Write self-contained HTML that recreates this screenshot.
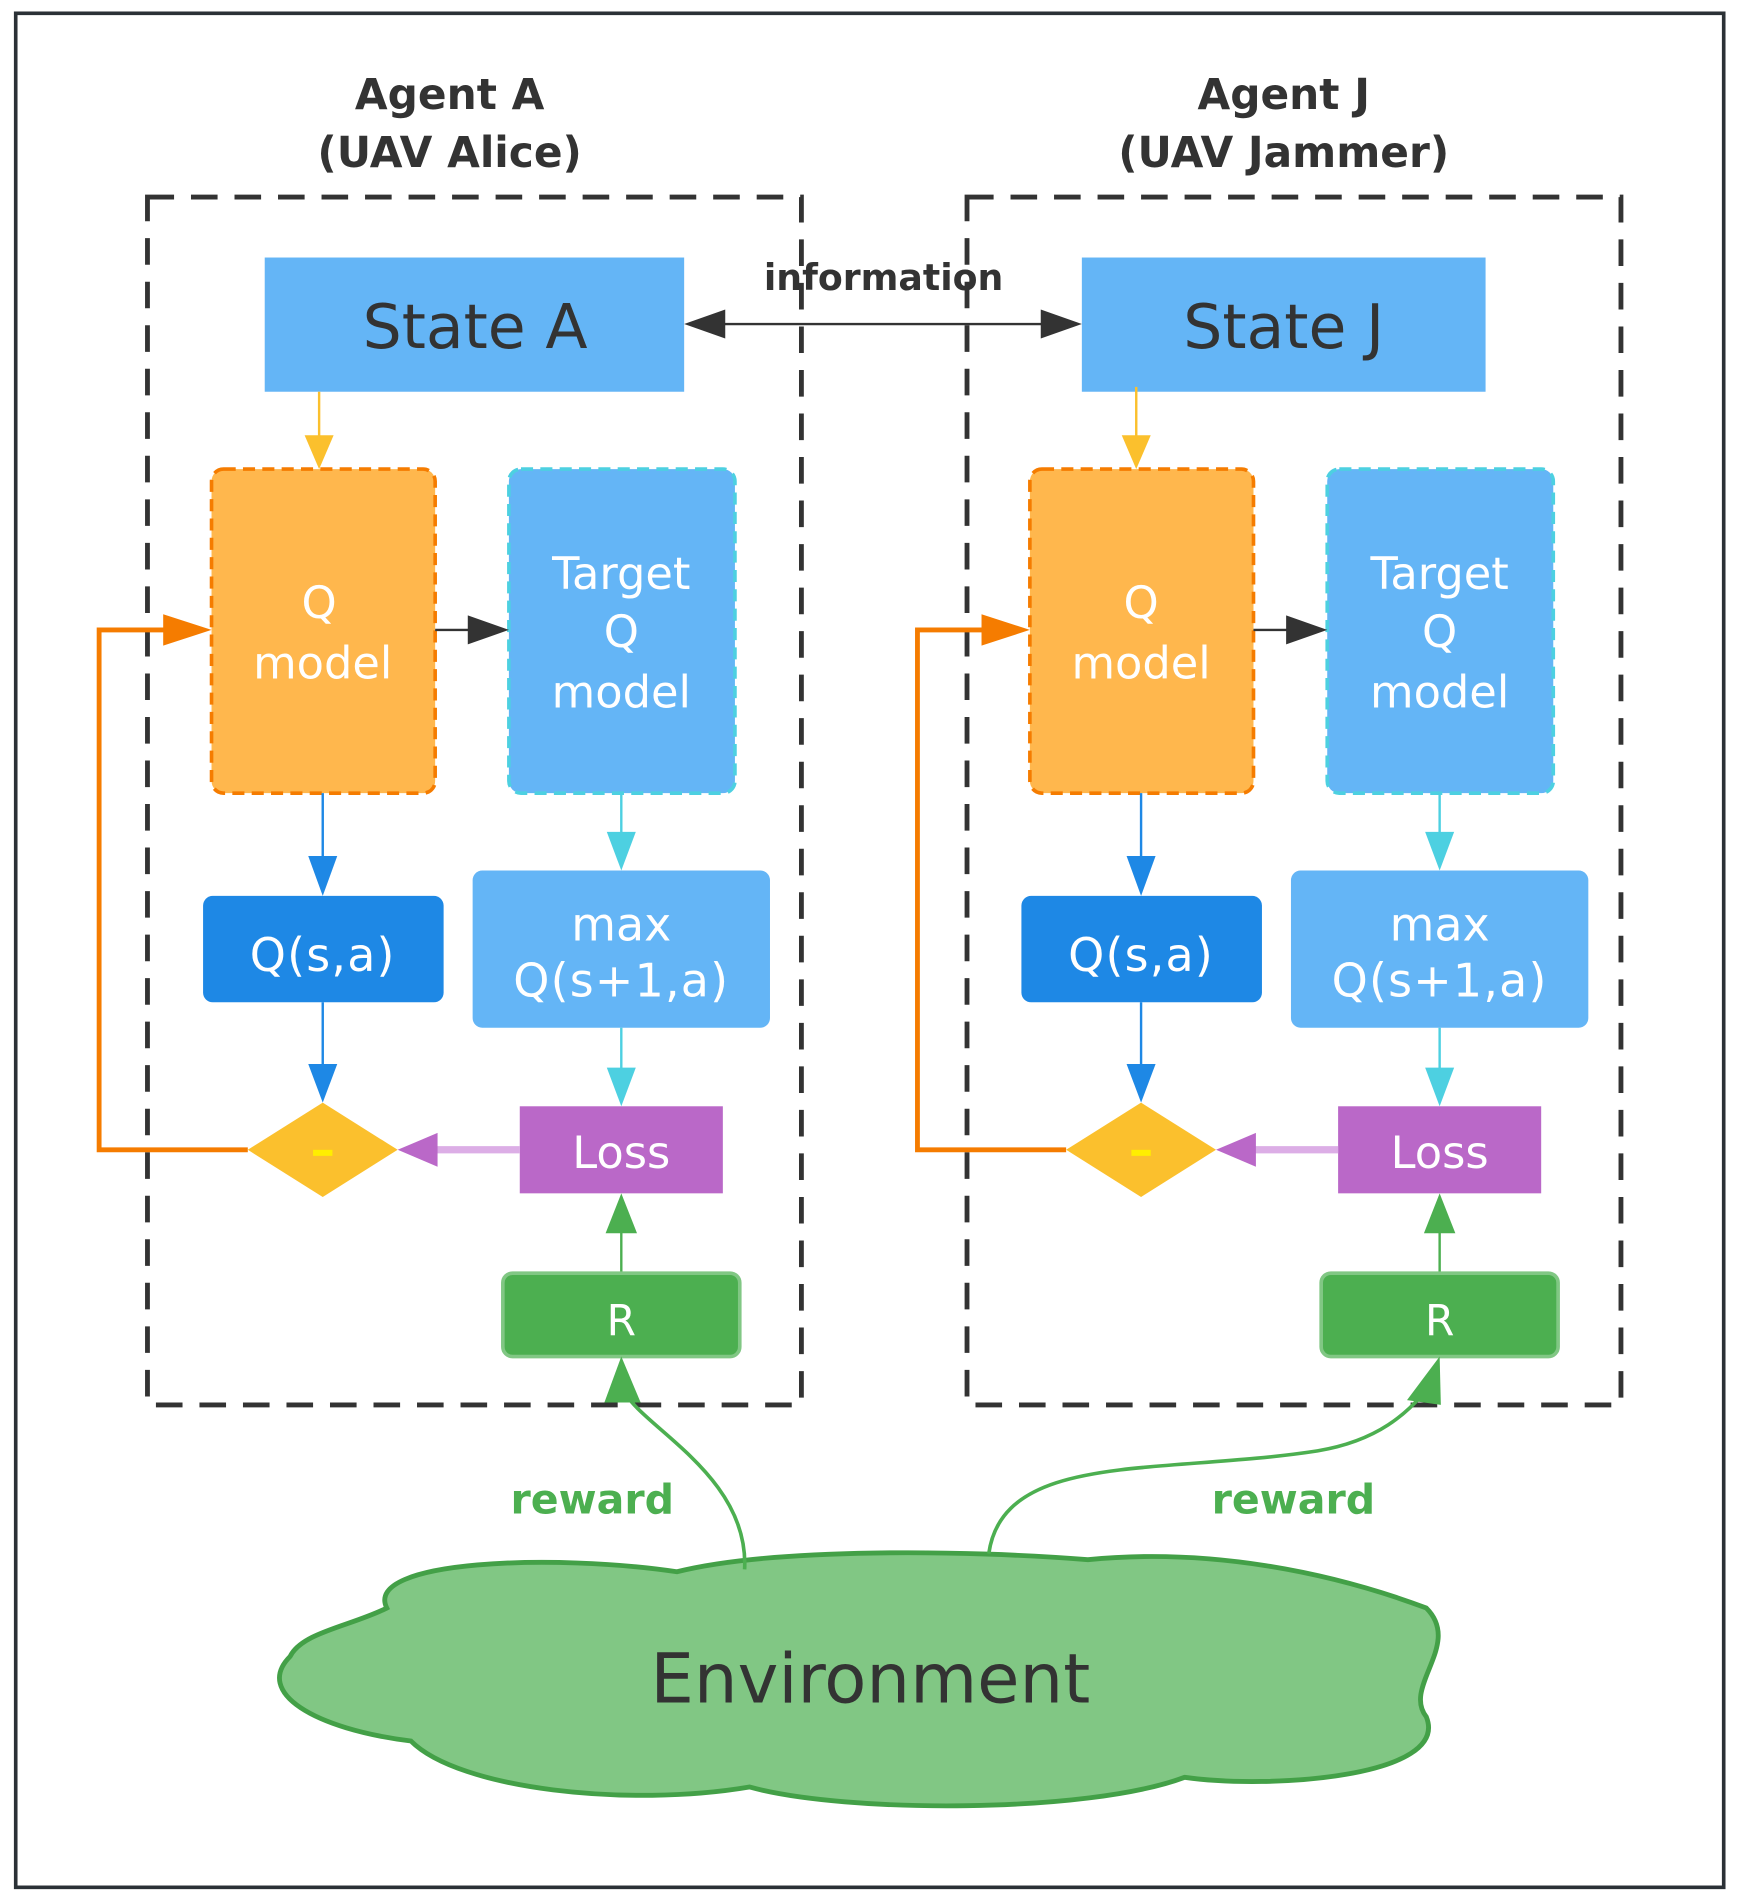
<!DOCTYPE html>
<html><head><meta charset="utf-8"><style>html,body{margin:0;padding:0;background:#fff}svg{display:block}</style></head>
<body>
<svg width="1737" height="1897" viewBox="0 0 1437 1569" preserveAspectRatio="none" xmlns="http://www.w3.org/2000/svg" font-family="'DejaVu Sans', 'Liberation Sans', sans-serif">
<rect x="0" y="0" width="1437" height="1569" fill="#fff"/>
<rect x="13" y="11" width="1413" height="1550" fill="none" stroke="#2b3136" stroke-width="3"/>

<path d="M320,1330 C300,1290 460,1285 560,1300 C640,1280 800,1282 900,1290 C1000,1280 1100,1300 1180,1330 C1210,1360 1160,1395 1180,1420 C1200,1470 1050,1480 980,1470 C900,1500 700,1500 620,1478 C520,1495 380,1480 340,1440 C260,1430 210,1400 240,1370 C250,1350 290,1345 320,1330Z" fill="#81c784" stroke="#43a047" stroke-width="4"/>
<text x="720" y="1408" font-size="57" fill="#333" text-anchor="middle">Environment</text>

<line x1="580" y1="268" x2="880" y2="268" stroke="#333" stroke-width="2"/>
<path d="M566,268 L600,256 L600,280Z" fill="#333"/>
<path d="M895,268 L861,256 L861,280Z" fill="#333"/>
<text x="731" y="240" font-size="30" font-weight="bold" fill="#333" text-anchor="middle">information</text>

<g id="agentA">
<text x="372" y="90" font-size="35" font-weight="bold" fill="#333" text-anchor="middle">Agent A</text>
<text x="372" y="138" font-size="35" font-weight="bold" fill="#333" text-anchor="middle">(UAV Alice)</text>
<rect x="122" y="163" width="541" height="999" fill="none" stroke="#333" stroke-width="4" stroke-dasharray="22 14"/>
<rect x="219" y="213" width="347" height="111" fill="#64b5f6"/>
<text x="393" y="288" font-size="51" fill="#333" text-anchor="middle">State A</text>
<line x1="264" y1="324" x2="264" y2="370" stroke="#fbc02d" stroke-width="2"/>
<path d="M252,360 L276,360 L264,388Z" fill="#fbc02d"/>
<rect x="175" y="388" width="185" height="268" rx="10" fill="#ffb74d" stroke="#f57c00" stroke-width="3" stroke-dasharray="10 6"/>
<text x="264" y="511" font-size="37" fill="#fff" text-anchor="middle">Q</text>
<text x="267" y="561" font-size="37" fill="#fff" text-anchor="middle">model</text>
<rect x="421" y="388" width="187" height="268" rx="10" fill="#64b5f6" stroke="#4dd0e1" stroke-width="3" stroke-dasharray="10 6"/>
<text x="514" y="487" font-size="37" fill="#fff" text-anchor="middle">Target</text>
<text x="514" y="535" font-size="37" fill="#fff" text-anchor="middle">Q</text>
<text x="514" y="585" font-size="37" fill="#fff" text-anchor="middle">model</text>
<line x1="360" y1="521" x2="395" y2="521" stroke="#333" stroke-width="2"/>
<path d="M421,521 L387,509 L387,533Z" fill="#333"/>
<line x1="267" y1="656" x2="267" y2="715" stroke="#1e88e5" stroke-width="2"/>
<path d="M255,708 L279,708 L267,741Z" fill="#1e88e5"/>
<rect x="168" y="741" width="199" height="88" rx="8" fill="#1e88e5"/>
<text x="267" y="803" font-size="38" fill="#fff" text-anchor="middle" letter-spacing="1">Q(s,a)</text>
<line x1="514" y1="656" x2="514" y2="695" stroke="#4dd0e1" stroke-width="2"/>
<path d="M502,688 L526,688 L514,720Z" fill="#4dd0e1"/>
<rect x="391" y="720" width="246" height="130" rx="8" fill="#64b5f6"/>
<text x="514" y="778" font-size="38" fill="#fff" text-anchor="middle">max</text>
<text x="514" y="824" font-size="38" fill="#fff" text-anchor="middle" letter-spacing="1">Q(s+1,a)</text>
<line x1="267" y1="829" x2="267" y2="885" stroke="#1e88e5" stroke-width="2"/>
<path d="M255,880 L279,880 L267,912Z" fill="#1e88e5"/>
<line x1="514" y1="850" x2="514" y2="890" stroke="#4dd0e1" stroke-width="2"/>
<path d="M502,883 L526,883 L514,915Z" fill="#4dd0e1"/>
<path d="M205,951 L82,951 L82,521 L150,521" fill="none" stroke="#f57c00" stroke-width="4"/>
<path d="M175,521 L135,508 L135,534Z" fill="#f57c00"/>
<path d="M267,912 L329,951 L267,990 L205,951Z" fill="#fbc02d"/>
<rect x="259" y="951" width="16" height="5" fill="#ffee00"/>
<rect x="430" y="915" width="168" height="72" fill="#ba68c8"/>
<text x="514" y="966" font-size="37" fill="#fff" text-anchor="middle">Loss</text>
<line x1="355" y1="951" x2="430" y2="951" stroke="#dcaee6" stroke-width="6"/>
<path d="M329,951 L362,937 L362,965Z" fill="#ba68c8"/>
<line x1="514" y1="1053" x2="514" y2="1015" stroke="#4caf50" stroke-width="2"/>
<path d="M514,987 L501,1020 L527,1020Z" fill="#4caf50"/>
<rect x="416" y="1053" width="196" height="69" rx="8" fill="#4caf50" stroke="#81c784" stroke-width="3"/>
<text x="514" y="1104" font-size="35" fill="#fff" text-anchor="middle">R</text>
<path d="M616,1298 C620,1220 530,1180 516,1150" fill="none" stroke="#4caf50" stroke-width="3"/>
<path d="M514,1122 L500,1160 L530,1160Z" fill="#4caf50"/>
<text x="490" y="1252" font-size="34" font-weight="bold" fill="#4caf50" text-anchor="middle">reward</text>
</g>

<g id="agentJ">
<text x="1062" y="90" font-size="35" font-weight="bold" fill="#333" text-anchor="middle">Agent J</text>
<text x="1062" y="138" font-size="35" font-weight="bold" fill="#333" text-anchor="middle">(UAV Jammer)</text>
<rect x="800" y="163" width="541" height="999" fill="none" stroke="#333" stroke-width="4" stroke-dasharray="22 14"/>
<rect x="895" y="213" width="334" height="111" fill="#64b5f6"/>
<text x="1062" y="288" font-size="51" fill="#333" text-anchor="middle">State J</text>
<line x1="940" y1="320" x2="940" y2="370" stroke="#fbc02d" stroke-width="2"/>
<path d="M928,360 L952,360 L940,388Z" fill="#fbc02d"/>
<rect x="852" y="388" width="185" height="268" rx="10" fill="#ffb74d" stroke="#f57c00" stroke-width="3" stroke-dasharray="10 6"/>
<text x="944" y="511" font-size="37" fill="#fff" text-anchor="middle">Q</text>
<text x="944" y="561" font-size="37" fill="#fff" text-anchor="middle">model</text>
<rect x="1098" y="388" width="187" height="268" rx="10" fill="#64b5f6" stroke="#4dd0e1" stroke-width="3" stroke-dasharray="10 6"/>
<text x="1191" y="487" font-size="37" fill="#fff" text-anchor="middle">Target</text>
<text x="1191" y="535" font-size="37" fill="#fff" text-anchor="middle">Q</text>
<text x="1191" y="585" font-size="37" fill="#fff" text-anchor="middle">model</text>
<line x1="1037" y1="521" x2="1072" y2="521" stroke="#333" stroke-width="2"/>
<path d="M1098,521 L1064,509 L1064,533Z" fill="#333"/>
<line x1="944" y1="656" x2="944" y2="715" stroke="#1e88e5" stroke-width="2"/>
<path d="M932,708 L956,708 L944,741Z" fill="#1e88e5"/>
<rect x="845" y="741" width="199" height="88" rx="8" fill="#1e88e5"/>
<text x="944" y="803" font-size="38" fill="#fff" text-anchor="middle" letter-spacing="1">Q(s,a)</text>
<line x1="1191" y1="656" x2="1191" y2="695" stroke="#4dd0e1" stroke-width="2"/>
<path d="M1179,688 L1203,688 L1191,720Z" fill="#4dd0e1"/>
<rect x="1068" y="720" width="246" height="130" rx="8" fill="#64b5f6"/>
<text x="1191" y="778" font-size="38" fill="#fff" text-anchor="middle">max</text>
<text x="1191" y="824" font-size="38" fill="#fff" text-anchor="middle" letter-spacing="1">Q(s+1,a)</text>
<line x1="944" y1="829" x2="944" y2="885" stroke="#1e88e5" stroke-width="2"/>
<path d="M932,880 L956,880 L944,912Z" fill="#1e88e5"/>
<line x1="1191" y1="850" x2="1191" y2="890" stroke="#4dd0e1" stroke-width="2"/>
<path d="M1179,883 L1203,883 L1191,915Z" fill="#4dd0e1"/>
<path d="M882,951 L759,951 L759,521 L827,521" fill="none" stroke="#f57c00" stroke-width="4"/>
<path d="M852,521 L812,508 L812,534Z" fill="#f57c00"/>
<path d="M944,912 L1006,951 L944,990 L882,951Z" fill="#fbc02d"/>
<rect x="936" y="951" width="16" height="5" fill="#ffee00"/>
<rect x="1107" y="915" width="168" height="72" fill="#ba68c8"/>
<text x="1191" y="966" font-size="37" fill="#fff" text-anchor="middle">Loss</text>
<line x1="1032" y1="951" x2="1107" y2="951" stroke="#dcaee6" stroke-width="6"/>
<path d="M1006,951 L1039,937 L1039,965Z" fill="#ba68c8"/>
<line x1="1191" y1="1053" x2="1191" y2="1015" stroke="#4caf50" stroke-width="2"/>
<path d="M1191,987 L1178,1020 L1204,1020Z" fill="#4caf50"/>
<rect x="1093" y="1053" width="196" height="69" rx="8" fill="#4caf50" stroke="#81c784" stroke-width="3"/>
<text x="1191" y="1104" font-size="35" fill="#fff" text-anchor="middle">R</text>
<path d="M818,1285 C830,1200 960,1220 1090,1200 C1150,1190 1170,1160 1185,1145" fill="none" stroke="#4caf50" stroke-width="3"/>
<path d="M1191,1122 L1164,1158 L1192,1162Z" fill="#4caf50"/>
<text x="1070" y="1252" font-size="34" font-weight="bold" fill="#4caf50" text-anchor="middle">reward</text>
</g>
</svg>
</body></html>
